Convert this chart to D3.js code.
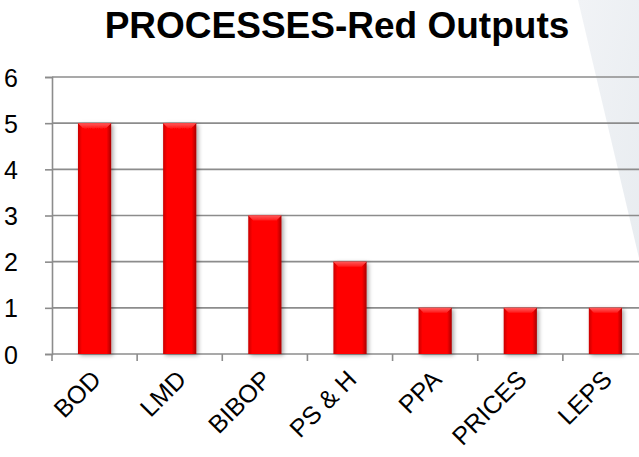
<!DOCTYPE html>
<html>
<head>
<meta charset="utf-8">
<script src="https://cdn.jsdelivr.net/npm/d3@7/dist/d3.min.js"></script>
<style>
  html, body { margin: 0; padding: 0; background: #ffffff; }
  svg { display: block; font-family: "Liberation Sans", Arial, Helvetica, sans-serif; }
</style>
</head>
<body>
<svg id="chart" width="639" height="457"></svg>
<script>
// Output counts per process
const categories = ["BOD", "LMD", "BIBOP", "PS & H", "PPA", "PRICES", "LEPS"];
const values = [5, 5, 3, 2, 1, 1, 1];
const yTicks = [0, 1, 2, 3, 4, 5, 6];
const titleText = "PROCESSES-Red Outputs";

const W = 639, H = 457;
const svg = d3.select("#chart");
const defs = svg.append("defs");

// slide backdrop: soft slanted panel on the right
const bg = defs.append("linearGradient").attr("id", "panel")
  .attr("x1", "0").attr("y1", "0").attr("x2", "1").attr("y2", "1");
bg.append("stop").attr("offset", "0").attr("stop-color", "#f1f3f6");
bg.append("stop").attr("offset", "1").attr("stop-color", "#e8ecf0");

svg.append("rect").attr("width", W).attr("height", H).attr("fill", "#ffffff");
svg.append("path")
  .attr("d", "M578,0 L639,0 L639,258 Z")
  .attr("fill", "url(#panel)");

// bar shading
const side = defs.append("linearGradient").attr("id", "barFace")
  .attr("x1", "0").attr("y1", "0").attr("x2", "1").attr("y2", "0");
side.append("stop").attr("offset", "0").attr("stop-color", "#c80000");
side.append("stop").attr("offset", "0.12").attr("stop-color", "#ff0000");
side.append("stop").attr("offset", "0.86").attr("stop-color", "#ff0000");
side.append("stop").attr("offset", "1").attr("stop-color", "#a80000");

const topG = defs.append("linearGradient").attr("id", "barTop")
  .attr("x1", "0").attr("y1", "0").attr("x2", "0").attr("y2", "1");
topG.append("stop").attr("offset", "0").attr("stop-color", "#ff5a5a");
topG.append("stop").attr("offset", "1").attr("stop-color", "#ff1a1a");

const shadow = defs.append("filter").attr("id", "shadow")
  .attr("x", "-30%").attr("y", "-10%").attr("width", "170%").attr("height", "130%");
shadow.append("feDropShadow")
  .attr("dx", 2).attr("dy", 1.5).attr("stdDeviation", 2)
  .attr("flood-color", "#000").attr("flood-opacity", 0.35);

// scales
const x = d3.scaleBand()
  .domain(categories)
  .range([52, 648])
  .paddingInner(0.61)
  .paddingOuter(0.305);
const y = d3.scaleLinear().domain([0, 6]).range([354, 77]);
const step = x.step();
const bw = x.bandwidth();

// title
svg.append("text")
  .attr("x", 337).attr("y", 38)
  .attr("text-anchor", "middle")
  .attr("font-size", 37).attr("font-weight", "bold")
  .attr("fill", "#000")
  .text(titleText);

const gridColor = "#8c8c8c";

// horizontal gridlines
svg.append("g").selectAll("line").data(yTicks).join("line")
  .attr("x1", 52).attr("x2", W)
  .attr("y1", d => y(d)).attr("y2", d => y(d))
  .attr("stroke", gridColor).attr("stroke-width", 1.6);

// y axis
const yAxis = d3.axisLeft(y).tickValues(yTicks).tickSize(7).tickPadding(27).tickFormat(d3.format("d"));
const gy = svg.append("g").attr("transform", "translate(52,0)").call(yAxis);
gy.select(".domain").attr("stroke", gridColor).attr("stroke-width", 1.6);
gy.selectAll(".tick line").attr("stroke", gridColor).attr("stroke-width", 1.6);
gy.selectAll(".tick text")
  .attr("font-size", 25).attr("fill", "#000")
  .attr("font-family", "Liberation Sans, Arial, sans-serif")
  .attr("dy", "0.36em");

// category boundary ticks below the baseline
const boundaries = categories.map(c => x(c) + bw / 2 - step / 2);
svg.append("g").selectAll("line").data(boundaries).join("line")
  .attr("x1", d => d).attr("x2", d => d)
  .attr("y1", y(0)).attr("y2", y(0) + 7)
  .attr("stroke", gridColor).attr("stroke-width", 1.6);

// bars
const bars = svg.append("g").selectAll("g").data(values).join("g")
  .attr("filter", "url(#shadow)");
bars.append("rect")
  .attr("x", (d, i) => x(categories[i]))
  .attr("y", d => y(d))
  .attr("width", bw)
  .attr("height", d => y(0) - y(d))
  .attr("fill", "url(#barFace)");
bars.append("path")
  .attr("d", (d, i) => {
    const x0 = x(categories[i]), x1 = x0 + bw, t = y(d), b = 5;
    return `M${x0},${t} L${x1},${t} L${x1 - b},${t + b} L${x0 + b},${t + b} Z`;
  })
  .attr("fill", "url(#barTop)");

// rotated category labels
svg.append("g").selectAll("text").data(categories).join("text")
  .attr("transform", c => `translate(${x(c) + bw / 2 + 8},${381}) rotate(-45)`)
  .attr("text-anchor", "end")
  .attr("font-size", 25)
  .attr("fill", "#000")
  .text(c => c);
</script>
</body>
</html>
